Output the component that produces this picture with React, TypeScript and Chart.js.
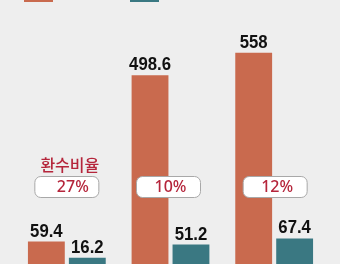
import React, { useEffect, useRef } from "react";
import { Chart, registerables } from "chart.js";

Chart.register(...registerables);

const categories = ["A", "B", "C"];
const seriesA = [59.4, 498.6, 558];
const seriesB = [16.2, 51.2, 67.4];
const rateLabels = ["27%", "10%", "12%"];
const rateTitle = "환수비율";

const ORANGE = "#c96a4e";
const TEAL = "#3a7882";
const CRIMSON = "#b5253b";

const overlayPlugin = {
  id: "overlay",
  afterDatasetsDraw(chart: any) {
    const ctx = chart.ctx;
    const xs = chart.scales.x;
    ctx.save();
    // value labels (slightly condensed)
    ctx.fillStyle = "#111111";
    ctx.font = "bold 18px 'Liberation Sans', Arial, sans-serif";
    ctx.textAlign = "center";
    ctx.textBaseline = "alphabetic";
    const sx = 0.93;
    chart.data.datasets.forEach((ds: any, di: number) => {
      const meta = chart.getDatasetMeta(di);
      meta.data.forEach((bar: any, i: number) => {
        ctx.save();
        ctx.translate(bar.x, bar.y - 5);
        ctx.scale(sx, 1);
        ctx.fillText(String(ds.data[i]), 0, 0);
        ctx.restore();
      });
    });
    // legend swatches (cut off at top)
    ctx.fillStyle = chart.data.datasets[0].backgroundColor;
    ctx.fillRect(24, 0, 29, 2);
    ctx.fillStyle = chart.data.datasets[1].backgroundColor;
    ctx.fillRect(130, 0, 29, 2);
    // rate boxes
    rateLabels.forEach((lbl, i) => {
      const cx = xs.getPixelForValue(i) + (i === 0 ? 0 : i === 1 ? -2 : 1);
      const w = 64;
      const h = 21;
      const x = cx - w / 2;
      const y = 176.5;
      ctx.beginPath();
      ctx.roundRect(x, y, w, h, 6);
      ctx.fillStyle = "#ffffff";
      ctx.fill();
      ctx.strokeStyle = "#a8a8a8";
      ctx.lineWidth = 1;
      ctx.stroke();
      ctx.fillStyle = CRIMSON;
      ctx.font = "500 16px 'Noto Sans', 'Liberation Sans', sans-serif";
      ctx.textAlign = "center";
      ctx.textBaseline = "middle";
      ctx.fillText(lbl, cx + (i === 0 ? 6 : 2), y + h / 2 + 0.5);
    });
    ctx.fillStyle = CRIMSON;
    ctx.font = "500 16px 'Noto Sans CJK KR', sans-serif";
    ctx.textAlign = "center";
    ctx.textBaseline = "middle";
    ctx.fillText(rateTitle, xs.getPixelForValue(0) + 3, 165);
    ctx.restore();
  },
};

export default function App() {
  const ref = useRef<HTMLCanvasElement | null>(null);
  useEffect(() => {
    if (!ref.current) return;
    const chart = new Chart(ref.current, {
      type: "bar",
      data: {
        labels: categories,
        datasets: [
          { data: seriesA, backgroundColor: ORANGE, categoryPercentage: 0.79, barPercentage: 0.9 },
          { data: seriesB, backgroundColor: TEAL, categoryPercentage: 0.79, barPercentage: 0.9 },
        ],
      },
      options: {
        responsive: false,
        animation: false,
        layout: { padding: { left: 15, right: 14, top: 0, bottom: 0 } },
        plugins: { legend: { display: false }, tooltip: { enabled: false } },
        scales: {
          x: { display: false },
          y: { display: false, min: 0, max: 697 },
        },
      },
      plugins: [overlayPlugin],
    });
    return () => chart.destroy();
  }, []);
  return (
    <div style={{ position: "absolute", left: 0, top: 0, width: 340, height: 264, background: "#eeeeee" }}>
      <canvas ref={ref} width={340} height={264} style={{ display: "block" }} />
    </div>
  );
}
